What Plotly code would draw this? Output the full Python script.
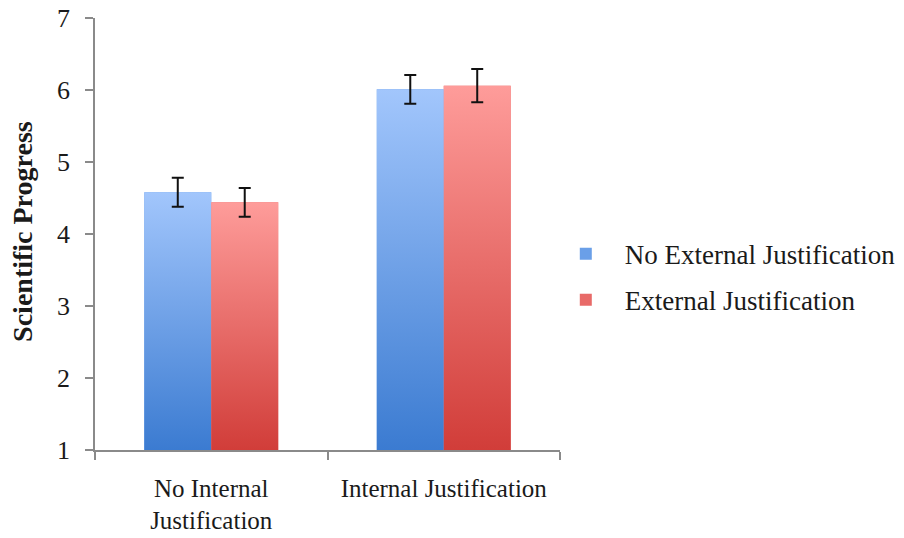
import plotly.graph_objects as go

categories = ["No Internal<br>Justification", "Internal Justification"]
series_names = ["No External Justification", "External Justification"]
no_external = [4.58, 6.01]
no_external_err = [0.20, 0.20]
external = [4.44, 6.06]
external_err = [0.20, 0.23]
y_ticks = [1, 2, 3, 4, 5, 6, 7]
y_title = "Scientific Progress"

values = [no_external, external]
errors = [no_external_err, external_err]
light = ["#a2c6fc", "#fe9c9a"]
dark = ["#3b7bd1", "#d13d39"]
mid = ["#6a9fe8", "#e86a68"]
bar_w = 0.288
offsets = [-bar_w, 0.0]
y_min = 1
font_family = "Liberation Serif"
axis_color = "#8a8a8a"
text_color = "#1a1a1a"
xs = list(range(len(categories)))

fig = go.Figure()

# base bars (legend + hover)
for s in range(2):
    fig.add_trace(go.Bar(
        x=xs, y=values[s], name=series_names[s], offset=offsets[s], width=bar_w,
        marker=dict(color=mid[s], line=dict(width=0)),
        legendgroup=f"g{s}",
    ))

# gradient overlays built from the same data
for s in range(2):
    for i, v in enumerate(values[s]):
        x0 = xs[i] + offsets[s]
        x1 = x0 + bar_w
        fig.add_trace(go.Scatter(
            x=[x0, x1, x1, x0, x0], y=[y_min, y_min, v, v, y_min],
            mode="lines", fill="toself", line=dict(width=0),
            fillgradient=dict(type="vertical", colorscale=[[0, dark[s]], [1, light[s]]]),
            showlegend=False, hoverinfo="skip", legendgroup=f"g{s}",
        ))

# error bars
for s in range(2):
    fig.add_trace(go.Scatter(
        x=[x + offsets[s] + bar_w / 2 for x in xs], y=values[s], mode="markers",
        marker=dict(size=1, opacity=0),
        error_y=dict(type="data", array=errors[s], visible=True, color="#111111", thickness=2, width=6),
        showlegend=False, hoverinfo="skip",
    ))

fig.add_annotation(
    text=f"<b>{y_title}</b>", xref="paper", yref="paper", x=-0.155, y=0.507,
    xanchor="center", yanchor="middle", textangle=-90, showarrow=False,
    font=dict(family=font_family, size=28, color=text_color),
)

fig.update_layout(
    width=904, height=538,
    margin=dict(l=95, r=344, t=18, b=88, autoexpand=False),
    paper_bgcolor="white", plot_bgcolor="white",
    barmode="overlay",
    font=dict(family=font_family, size=26, color=text_color),
    showlegend=True,
    legend=dict(x=0.9716, y=0.40, xanchor="left", yanchor="middle",
                traceorder="grouped", tracegroupgap=8,
                font=dict(family=font_family, size=27, color=text_color),
                itemwidth=68, bgcolor="rgba(0,0,0,0)"),
    xaxis=dict(range=[-0.5, 1.5], tickmode="array", tickvals=xs, ticktext=categories,
               ticks="", showline=True, linecolor=axis_color, linewidth=1.5,
               showgrid=False, zeroline=False, ticklabelstandoff=15, automargin=False,
               ticklabeloverflow="allow",
               minor=dict(tickmode="array", tickvals=[-0.5, 0.5, 1.5], ticks="outside",
                          ticklen=8, tickcolor=axis_color, tickwidth=1.5, showgrid=False),
               tickfont=dict(size=25)),
    yaxis=dict(range=[1, 7], tickmode="array", tickvals=y_ticks, ticks="outside",
               ticklen=8, tickcolor=axis_color, tickwidth=1.5,
               showline=True, linecolor=axis_color, linewidth=1.5,
               showgrid=False, zeroline=False, ticklabelstandoff=10, automargin=False,
               ticklabeloverflow="allow",
               tickfont=dict(size=26)),
)

fig.write_html("out.html", config={"displayModeBar": False},
               post_script="document.body.style.margin='0';")
